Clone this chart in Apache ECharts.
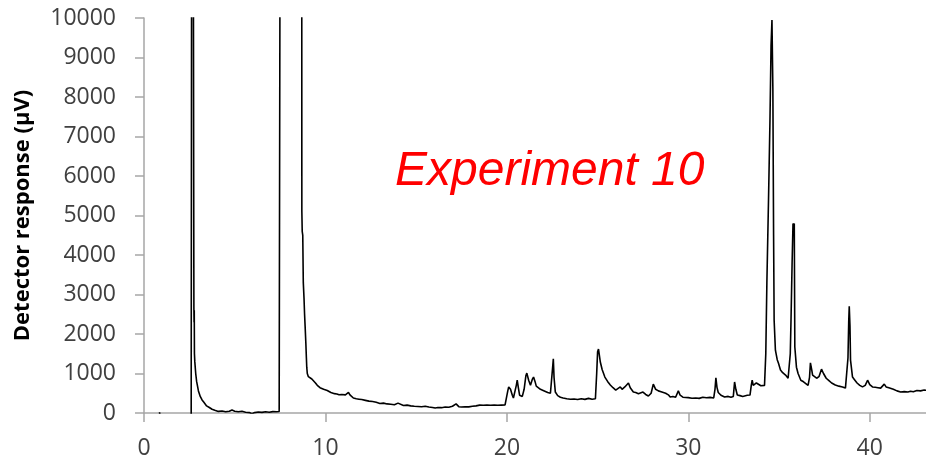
<!DOCTYPE html>
<html>
<head>
<meta charset="utf-8">
<script src="https://cdn.jsdelivr.net/npm/echarts@6/dist/echarts.min.js"></script>
<style>
  html, body { margin: 0; padding: 0; background: #fff; }
  #chart { width: 926px; height: 462px; }
</style>
</head>
<body>
<div id="chart"></div>
<script>
// 保留时间 (min) 与检测器响应 (µV)，超出 10000 的峰被坐标轴截断
const solventTime = [0.85, 0.95, 1.0, 2.6, 2.64, 2.66, 2.72, 2.75, 2.76, 2.77, 2.78, 2.8, 2.85, 2.9, 3.0, 3.1, 3.2, 3.3, 3.45, 3.6, 3.75, 3.9, 4.1, 4.3, 4.5, 4.7, 4.85, 5.0, 5.2, 5.4, 5.6, 5.8, 5.95, 6.1, 6.3, 6.5, 6.7, 6.9, 7.1, 7.3, 7.45, 7.53, 7.56, 7.57, 8.68]
const solventSignal = [20, 20, -300, -300, -300, 30000, 30000, 2650, 2300, 2600, 1500, 1300, 1000, 800, 560, 420, 330, 270, 180, 140, 95, 70, 40, 50, 30, 45, 75, 45, 30, 45, 20, 10, -20, 10, 25, 15, 30, 20, 35, 30, 40, 35, 35, 30000, 30000]

const tailTime = [8.7, 8.72, 8.75, 8.78, 8.82, 8.85, 8.88, 8.92, 8.95, 8.97, 9.0, 9.06, 9.15, 9.25, 9.34, 9.45, 9.55, 9.61, 9.7, 9.8, 9.9, 10.0, 10.1, 10.2, 10.3, 10.4, 10.5, 10.63, 10.75, 10.9, 11.0, 11.1, 11.2, 11.27, 11.35, 11.45, 11.54, 11.7, 11.85, 12.0, 12.2, 12.4, 12.6, 12.8, 13.0, 13.2, 13.4, 13.6, 13.8, 14.0, 14.1, 14.3, 14.5, 14.7, 14.9, 15.1, 15.3, 15.5, 15.7, 15.9, 16.05, 16.2, 16.4, 16.6, 16.8, 17.0, 17.2, 17.35, 17.5, 17.7, 17.9, 18.1, 18.3, 18.5, 18.7, 18.9, 19.1, 19.3, 19.5, 19.7, 19.9, 19.98]
const tailSignal = [5100, 4600, 4500, 3300, 2900, 2500, 2200, 1770, 1400, 1160, 1000, 920, 880, 860, 830, 760, 700, 665, 640, 620, 600, 590, 570, 540, 520, 500, 490, 480, 460, 470, 450, 460, 470, 520, 460, 410, 380, 360, 350, 340, 320, 300, 290, 270, 240, 250, 230, 220, 210, 250, 200, 190, 200, 180, 170, 165, 160, 170, 150, 140, 125, 140, 135, 150, 145, 170, 230, 160, 150, 160, 155, 170, 180, 200, 195, 200, 195, 200, 195, 200, 205, 210]

const peaksTime = [20.05, 20.1, 20.2, 20.3, 20.36, 20.45, 20.52, 20.57, 20.63, 20.7, 20.74, 20.85, 20.95, 21.05, 21.1, 21.2, 21.3, 21.4, 21.47, 21.55, 21.62, 21.7, 21.85, 22.0, 22.1, 22.25, 22.4, 22.48, 22.53, 22.56, 22.6, 22.67, 22.8, 22.95, 23.1, 23.3, 23.5, 23.7, 23.9, 24.1, 24.3, 24.5, 24.7, 24.88, 24.95, 25.0, 25.05, 25.15, 25.25, 25.4, 25.55, 25.7, 25.85, 26.0, 26.1, 26.25, 26.35, 26.5, 26.6, 26.7, 26.8, 26.97, 27.1, 27.25, 27.36, 27.5, 27.65, 27.8, 27.95, 28.07, 28.2, 28.35, 28.5, 28.6, 28.75, 28.9, 29.0, 29.15, 29.3, 29.45, 29.55, 29.7, 29.8, 30.0, 30.2, 30.4, 30.6, 30.8, 31.0, 31.2, 31.4]
const peaksSignal = [560, 660, 600, 450, 380, 420, 700, 830, 650, 450, 405, 420, 600, 950, 1010, 830, 700, 850, 910, 800, 680, 630, 600, 570, 560, 520, 500, 520, 1200, 1370, 900, 530, 440, 400, 380, 360, 350, 355, 340, 360, 345, 370, 350, 360, 1000, 1550, 1620, 1290, 1100, 910, 800, 710, 640, 580, 620, 660, 600, 660, 620, 760, 640, 530, 520, 490, 500, 530, 470, 430, 500, 730, 600, 560, 540, 580, 500, 460, 405, 420, 400, 560, 450, 400, 380, 390, 375, 380, 370, 400, 385, 395, 380]

const lateTime = [31.47, 31.52, 31.58, 31.65, 31.8, 32.0, 32.2, 32.35, 32.48, 32.55, 32.62, 32.7, 32.85, 33.0, 33.1, 33.25, 33.4, 33.47, 33.52, 33.58, 33.65, 33.75, 33.85, 34.0, 34.1, 34.2, 34.27, 34.33, 34.42, 34.5, 34.56, 34.61, 34.66, 34.7, 34.73, 34.8, 34.9, 34.97, 35.08, 35.2, 35.36, 35.5, 35.58, 35.62, 35.66, 35.72, 35.77, 35.8, 35.84, 35.87, 35.96, 36.05, 36.2, 36.35, 36.46, 36.6, 36.68, 36.73, 36.8, 36.85, 36.95, 37.07, 37.2, 37.34, 37.45, 37.6, 37.75, 37.9, 38.1, 38.3, 38.5, 38.66, 38.76, 38.8, 38.84, 38.87, 38.91, 38.94, 39.05, 39.15, 39.3, 39.45, 39.6, 39.75, 39.88, 40.0, 40.15, 40.3, 40.45, 40.6, 40.7, 40.8, 40.9, 41.05, 41.15, 41.3, 41.5, 41.7, 41.9, 42.1, 42.25, 42.4, 42.6, 42.8, 43.0, 43.2]
const lateSignal = [600, 890, 650, 520, 450, 405, 420, 400, 420, 785, 600, 455, 440, 420, 430, 450, 455, 700, 830, 700, 710, 760, 720, 690, 680, 700, 1500, 3300, 5390, 7400, 9300, 9950, 8200, 4500, 2350, 1590, 1350, 1260, 1090, 1020, 960, 880, 830, 1500, 2350, 3790, 4800, 4650, 4800, 1670, 1160, 1000, 830, 790, 760, 700, 900, 1270, 1100, 960, 920, 880, 920, 1110, 1000, 880, 820, 760, 710, 680, 660, 630, 580, 1400, 2300, 2700, 2200, 1340, 910, 850, 760, 700, 660, 700, 830, 720, 660, 650, 640, 630, 650, 730, 660, 640, 630, 600, 560, 530, 540, 530, 550, 540, 570, 560, 580, 570]

const xTicks = [0, 10, 20, 30, 40]
const yMax = 10000
const yStep = 1000

const times = [...solventTime, ...tailTime, ...peaksTime, ...lateTime]
const signal = [...solventSignal, ...tailSignal, ...peaksSignal, ...lateSignal]
const points = times.map((t, i) => [t, signal[i]])

const chart = echarts.init(document.getElementById('chart'))
chart.setOption({
  animation: false,
  grid: { left: 144, right: 0, top: 18, bottom: 49 },
  xAxis: {
    type: 'value',
    min: 0,
    max: 43.1,
    axisLine: { lineStyle: { color: '#a6a6a6', width: 1.5 } },
    axisTick: { show: true, length: 9, customValues: xTicks, lineStyle: { color: '#a6a6a6', width: 1.5 } },
    axisLabel: { customValues: xTicks, margin: 24, fontSize: 23, fontFamily: 'Open Sans', color: '#404040' },
    splitLine: { show: false }
  },
  yAxis: {
    type: 'value',
    min: 0,
    max: yMax,
    interval: yStep,
    name: 'Detector response (µV)',
    nameLocation: 'middle',
    nameGap: 110,
    nameTextStyle: { fontSize: 22, fontWeight: 'bold', fontFamily: 'Open Sans', color: '#000' },
    axisLine: { show: true, lineStyle: { color: '#a6a6a6', width: 1.5 } },
    axisTick: { show: true, length: 9, lineStyle: { color: '#a6a6a6', width: 1.5 } },
    axisLabel: {
      margin: 28, fontSize: 23, fontFamily: 'Open Sans', color: '#404040',
      formatter: v => String(v)
    },
    splitLine: { show: false }
  },
  graphic: [{
    type: 'text',
    left: 395,
    top: 148,
    style: { text: 'Experiment 10', font: 'italic 48px "Liberation Sans"', fill: '#ff0000' }
  }],
  series: [{
    type: 'line',
    data: points,
    showSymbol: false,
    clip: true,
    lineStyle: { color: '#000', width: 1.6 }
  }]
})
</script>
</body>
</html>
